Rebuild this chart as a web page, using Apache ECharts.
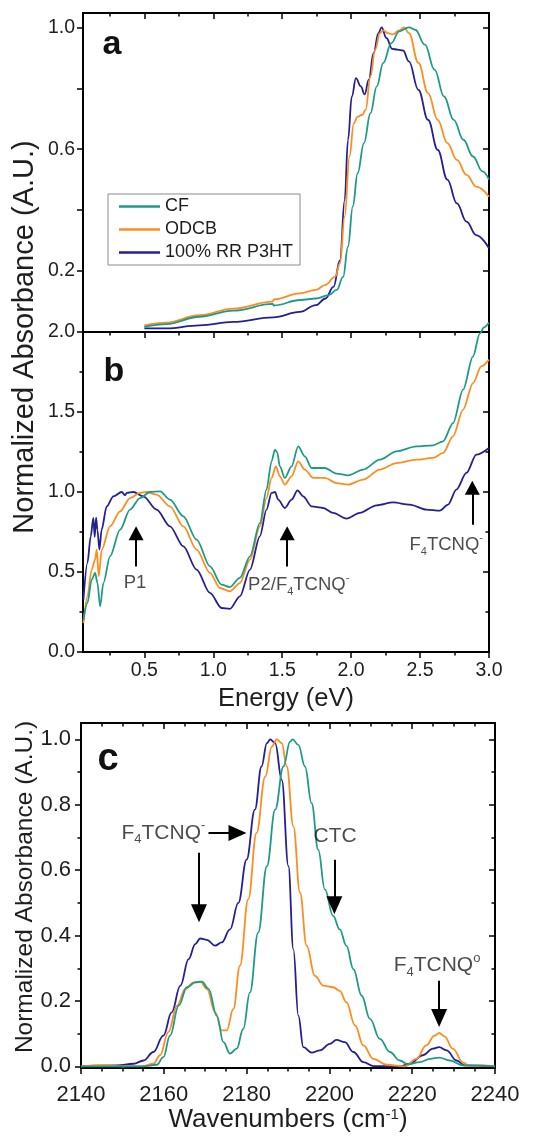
<!DOCTYPE html>
<html><head><meta charset="utf-8">
<script src="https://cdn.jsdelivr.net/npm/echarts@6/dist/echarts.min.js"></script>
<style>html,body{margin:0;padding:0;background:#fff}#c{width:545px;height:1136px}</style>
</head><body><div id="c"></div><script>
// ---------- data ----------
const seriesNames = ['CF', 'ODCB', '100% RR P3HT'];

// panel a : UV-Vis (eV, normalized absorbance)
const aCF = [[0.5,0.017],[0.66,0.026],[0.9,0.05],[1.145,0.07],[1.43,0.092],[1.44,0.087],[1.63,0.105],[1.744,0.11],[1.837,0.121],[1.895,0.138],[1.942,0.181],[1.977,0.28],[2.012,0.412],[2.047,0.521],[2.093,0.62],[2.14,0.718],[2.186,0.806],[2.233,0.883],[2.291,0.948],[2.349,0.987],[2.419,1.0],[2.465,0.992],[2.535,0.943],[2.605,0.861],[2.674,0.773],[2.744,0.696],[2.814,0.631],[2.884,0.576],[2.953,0.527],[3.0,0.5]];
const aODCB = [[0.5,0.022],[0.66,0.031],[0.9,0.055],[1.145,0.077],[1.43,0.1],[1.44,0.107],[1.628,0.127],[1.744,0.138],[1.81,0.154],[1.884,0.181],[1.919,0.225],[1.953,0.379],[1.988,0.576],[2.019,0.685],[2.047,0.707],[2.081,0.713],[2.105,0.729],[2.14,0.839],[2.174,0.927],[2.209,0.981],[2.233,0.99],[2.267,0.981],[2.302,0.977],[2.349,0.99],[2.384,1.0],[2.419,0.981],[2.488,0.883],[2.558,0.784],[2.628,0.696],[2.698,0.62],[2.767,0.565],[2.837,0.516],[2.907,0.477],[3.0,0.444]];
const aP3HT = [[0.5,0.012],[0.66,0.012],[0.9,0.022],[1.145,0.033],[1.435,0.048],[1.628,0.066],[1.744,0.088],[1.814,0.11],[1.872,0.148],[1.919,0.236],[1.953,0.433],[1.977,0.63],[2.005,0.773],[2.035,0.833],[2.07,0.806],[2.098,0.78],[2.128,0.828],[2.163,0.916],[2.198,0.981],[2.221,1.0],[2.256,0.965],[2.298,0.929],[2.337,0.927],[2.377,0.924],[2.419,0.888],[2.488,0.795],[2.558,0.696],[2.628,0.598],[2.698,0.5],[2.767,0.422],[2.837,0.362],[2.907,0.318],[3.0,0.275]];

// panel b : doped films (eV, normalized absorbance)
const bCF = [[0.058,0.2],[0.087,0.306],[0.118,0.452],[0.143,0.494],[0.16,0.431],[0.179,0.285],[0.203,0.431],[0.251,0.598],[0.324,0.765],[0.396,0.89],[0.469,0.962],[0.541,1.0],[0.614,1.004],[0.686,0.952],[0.783,0.848],[0.879,0.702],[0.976,0.535],[1.06,0.421],[1.12,0.406],[1.193,0.463],[1.266,0.598],[1.338,0.806],[1.386,1.015],[1.423,1.192],[1.447,1.265],[1.464,1.248],[1.483,1.16],[1.519,1.088],[1.568,1.16],[1.616,1.285],[1.664,1.223],[1.713,1.15],[1.809,1.15],[1.894,1.115],[1.978,1.104],[2.087,1.14],[2.208,1.202],[2.329,1.254],[2.473,1.285],[2.594,1.292],[2.667,1.317],[2.739,1.431],[2.812,1.64],[2.884,1.848],[2.933,1.99],[2.965,2.03],[3.0,2.06]];
const bODCB = [[0.058,0.18],[0.087,0.348],[0.118,0.515],[0.143,0.577],[0.155,0.64],[0.169,0.473],[0.191,0.64],[0.251,0.785],[0.324,0.879],[0.396,0.962],[0.469,0.994],[0.517,1.0],[0.589,0.983],[0.686,0.91],[0.783,0.785],[0.879,0.64],[0.976,0.494],[1.048,0.4],[1.12,0.379],[1.193,0.431],[1.266,0.577],[1.338,0.785],[1.386,0.962],[1.423,1.088],[1.454,1.16],[1.483,1.098],[1.519,1.046],[1.568,1.098],[1.616,1.192],[1.664,1.14],[1.725,1.088],[1.809,1.088],[1.894,1.056],[1.978,1.046],[2.087,1.077],[2.208,1.14],[2.329,1.181],[2.473,1.202],[2.594,1.213],[2.667,1.244],[2.739,1.348],[2.812,1.515],[2.884,1.681],[2.944,1.785],[3.0,1.827]];
const bP3HT = [[0.058,0.327],[0.087,0.556],[0.111,0.723],[0.13,0.838],[0.14,0.72],[0.15,0.84],[0.16,0.76],[0.174,0.64],[0.19,0.765],[0.227,0.91],[0.275,0.973],[0.336,1.0],[0.36,0.98],[0.372,0.994],[0.42,1.0],[0.493,0.973],[0.589,0.89],[0.686,0.785],[0.783,0.66],[0.879,0.515],[0.976,0.369],[1.06,0.275],[1.12,0.269],[1.193,0.348],[1.266,0.515],[1.338,0.723],[1.386,0.89],[1.423,0.994],[1.447,1.0],[1.471,0.952],[1.519,0.9],[1.568,0.952],[1.611,1.01],[1.652,0.973],[1.713,0.91],[1.797,0.9],[1.87,0.869],[1.966,0.833],[2.063,0.869],[2.184,0.917],[2.304,0.935],[2.425,0.921],[2.546,0.89],[2.643,0.883],[2.703,0.921],[2.763,1.015],[2.836,1.119],[2.908,1.233],[3.0,1.275]];

// panel c : IR (cm-1, normalized absorbance)
const cCF = [[2140,0],[2155,0],[2158.3,0.005],[2159.9,0.028],[2161.5,0.094],[2163.6,0.186],[2165.6,0.242],[2167.6,0.257],[2169.2,0.259],[2170.8,0.237],[2172.8,0.155],[2174.4,0.074],[2176,0.039],[2177.6,0.054],[2179.2,0.115],[2180.8,0.226],[2182.8,0.409],[2184.9,0.612],[2186.9,0.785],[2188.9,0.917],[2190.5,0.993],[2191.1,1.0],[2192.5,0.983],[2194.1,0.917],[2195.7,0.805],[2197.3,0.663],[2198.9,0.541],[2200.9,0.46],[2202.5,0.419],[2204.1,0.369],[2205.8,0.297],[2207.8,0.216],[2209.8,0.145],[2212.2,0.084],[2214.6,0.044],[2217,0.018],[2219,0.006],[2221.8,0.013],[2224.3,0.023],[2226.5,0.027],[2229.1,0.018],[2232.3,0.003],[2240,0]];
const cODCB = [[2140,0],[2145,0.004],[2150,0],[2155,0.001],[2157.5,0.008],[2159.1,0.034],[2161.1,0.105],[2163.2,0.186],[2165.2,0.237],[2167.2,0.257],[2168.8,0.259],[2170.4,0.237],[2172.4,0.165],[2174,0.11],[2175.2,0.11],[2176.8,0.176],[2178.4,0.308],[2180.4,0.511],[2182.4,0.714],[2184.5,0.886],[2186.1,0.978],[2187.3,1.0],[2188.5,0.988],[2189.7,0.917],[2191.3,0.734],[2192.9,0.531],[2194.5,0.369],[2196.5,0.277],[2198.5,0.247],[2200.9,0.242],[2202.5,0.231],[2204.1,0.196],[2206.2,0.125],[2208.2,0.064],[2210.6,0.023],[2213.8,0.005],[2218.2,0],[2221,0.023],[2223.4,0.064],[2225.4,0.094],[2226.5,0.102],[2227.8,0.092],[2229.8,0.054],[2232.3,0.011],[2233.9,0.001],[2237,0.003],[2240,0]];
const cP3HT = [[2140,0],[2148.7,0.003],[2152.7,0.008],[2155.1,0.018],[2157.5,0.044],[2159.9,0.094],[2161.9,0.165],[2164,0.247],[2166,0.328],[2167.6,0.374],[2168.8,0.391],[2170.4,0.387],[2172.4,0.369],[2174,0.379],[2176,0.419],[2178,0.5],[2180,0.632],[2182,0.785],[2183.6,0.917],[2184.9,0.988],[2185.7,1.0],[2186.9,0.988],[2188.5,0.876],[2190.1,0.612],[2191.3,0.358],[2192.5,0.155],[2193.7,0.059],[2195.7,0.042],[2197.7,0.049],[2200.1,0.069],[2201.7,0.081],[2203.7,0.074],[2205.8,0.044],[2208.2,0.013],[2210.6,0.001],[2217,0],[2219.4,0.008],[2222.6,0.034],[2225,0.054],[2226.5,0.059],[2228.3,0.049],[2230.7,0.018],[2232.7,0.003],[2240,0]];

// tick values / labels
const abMajorX = [0.5, 1.0, 1.5, 2.0, 2.5, 3.0];
const abMinorX = [0.25, 0.75, 1.25, 1.75, 2.25, 2.75];
const aTicksY = [0.2, 0.4, 0.6, 0.8, 1.0];
const aLabelsY = [0.2, 0.6, 1.0];
const bMajorY = [0.0, 0.5, 1.0, 1.5, 2.0];
const bMinorY = [0.25, 0.75, 1.25, 1.75];
const cMajorX = [2140, 2160, 2180, 2200, 2220, 2240];
const cMinorX = [2145, 2150, 2155, 2165, 2170, 2175, 2185, 2190, 2195, 2205, 2210, 2215, 2225, 2230, 2235];
const cMajorY = [0.0, 0.2, 0.4, 0.6, 0.8, 1.0];
const cMinorY = [0.1, 0.3, 0.5, 0.7, 0.9];

// annotations: [x, y, rich text]
const bNotes = [[0.432, 0.43, '{t|P1}'], [1.62, 0.42, '{t|P2/F}{sub|4}{t|TCNQ}{sup|-}'], [2.69, 0.67, '{t|F}{sub|4}{t|TCNQ}{sup|-}']];
const bArrows = [[[0.44, 0.535], [0.44, 0.742]], [[1.536, 0.535], [1.536, 0.742]], [[2.879, 0.796], [2.879, 1.027]]];
const cNotes = [[2159.9, 0.714, '{t|F}{sub|4}{t|TCNQ}{sup|-}'], [2201.4, 0.704, '{t|CTC}'], [2226, 0.308, '{t|F}{sub|4}{t|TCNQ}{sup|o}']];
const cArrows = [[[2168.5, 0.653], [2168.5, 0.468]], [[2170.8, 0.714], [2177.8, 0.714]], [[2201.2, 0.632], [2201.2, 0.493]], [[2226.5, 0.262], [2226.5, 0.148]]];

// ---------- style ----------
const FONT = '"Liberation Sans", Arial, Helvetica, sans-serif';
const COLORS = ['#1e9a88', '#ff8c1f', '#231f94'];
const TXT = '#1e1e1e';
const abRangeX = [0.055, 3.0], aRangeY = [0, 1.047], bRangeY = [0, 2.0];
const cRangeX = [2140, 2240], cRangeY = [-0.005, 1.05];

function ax(grid, position, range, ticks, len, inside, showLine, labels, fontSize, fmt, margin, extra) {
  return Object.assign({
    type: 'value', gridIndex: grid, position: position, min: range[0], max: range[1],
    axisLine: { show: showLine, onZero: false, lineStyle: { color: '#000', width: 2 } },
    axisTick: ticks ? { show: true, inside: inside, length: len, customValues: ticks, lineStyle: { color: '#000', width: 1.5 } } : { show: false },
    axisLabel: labels ? { show: true, customValues: labels, formatter: fmt, fontSize: fontSize, fontFamily: FONT, color: TXT, margin: margin, showMinLabel: true, showMaxLabel: true, hideOverlap: false } : { show: false },
    splitLine: { show: false }, minorTick: { show: false }
  }, extra || {});
}
const f1 = v => Number(v).toFixed(1);
const f0 = v => String(Math.round(v));

const xAxes = [
  ax(0, 'bottom', abRangeX, abMajorX, 6, false, true),
  ax(0, 'bottom', abRangeX, abMinorX, 3.5, false, false),
  ax(0, 'top', abRangeX, abMajorX, 6, true, true),
  ax(0, 'top', abRangeX, abMinorX, 3.5, true, false),
  ax(1, 'bottom', abRangeX, abMajorX, 6, false, true, abMajorX, 19.5, f1, 9, {
    name: 'Energy (eV)', nameLocation: 'middle', nameGap: 34,
    nameTextStyle: { fontSize: 25.5, fontFamily: FONT, color: TXT } }),
  ax(1, 'bottom', abRangeX, abMinorX, 3.5, false, false),
  ax(1, 'top', abRangeX, null, 0, true, true),
  ax(2, 'bottom', cRangeX, cMajorX, 6, false, true, cMajorX, 22, f0, 16, {
    name: 'Wavenumbers (cm{sup|-1})', nameLocation: 'middle', nameGap: 33,
    nameTextStyle: { fontSize: 26, fontFamily: FONT, color: TXT,
      rich: { sup: { fontSize: 15, fontFamily: FONT, color: TXT, verticalAlign: 'top', lineHeight: 14 } } } }),
  ax(2, 'bottom', cRangeX, cMinorX, 3.5, false, false),
  ax(2, 'top', cRangeX, cMajorX, 6, true, true),
  ax(2, 'top', cRangeX, cMinorX, 3.5, true, false)
];
const yAxes = [
  ax(0, 'left', aRangeY, aTicksY, 6, false, true, aLabelsY, 19.5, f1, 8),
  ax(0, 'right', aRangeY, aTicksY, 6, true, true),
  ax(1, 'left', bRangeY, bMajorY, 6, false, true, bMajorY, 19.5, f1, 8),
  ax(1, 'left', bRangeY, bMinorY, 3.5, false, false),
  ax(1, 'right', bRangeY, bMajorY, 6, true, true),
  ax(1, 'right', bRangeY, bMinorY, 3.5, true, false),
  ax(2, 'left', cRangeY, cMajorY, 6, false, true, cMajorY, 22, f1, 10),
  ax(2, 'left', cRangeY, cMinorY, 3.5, false, false),
  ax(2, 'right', cRangeY, cMajorY, 6, true, true),
  ax(2, 'right', cRangeY, cMinorY, 3.5, true, false)
];

function line(name, i, data, xi, yi, sm, clip) {
  return { type: 'line', name: name, data: data, xAxisIndex: xi, yAxisIndex: yi,
    color: COLORS[i], symbol: 'none', showSymbol: false, smooth: sm, smoothMonotone: 'x',
    lineStyle: { width: 1.8, color: COLORS[i] }, z: 3 + (2 - i) * 0.1, clip: clip };
}
function rich(fs) {
  return {
    t: { fontSize: fs, fontFamily: FONT, color: TXT, lineHeight: fs + 6 },
    sub: { fontSize: Math.round(fs * 0.62), fontFamily: FONT, color: TXT, lineHeight: Math.round(fs * 0.62), verticalAlign: 'bottom' },
    sup: { fontSize: Math.round(fs * 0.62), fontFamily: FONT, color: TXT, lineHeight: Math.round(fs * 0.62), verticalAlign: 'top' }
  };
}
function notes(xi, yi, list, arrows, fs, head) {
  return {
    type: 'scatter', name: 'notes', xAxisIndex: xi, yAxisIndex: yi, symbolSize: 1, silent: true,
    itemStyle: { color: 'rgba(0,0,0,0)' },
    label: { show: true, position: 'inside', fontSize: fs, fontFamily: FONT, color: TXT, rich: rich(fs) },
    data: list.map(n => ({ value: [n[0], n[1]], label: { formatter: n[2] } })),
    markLine: {
      silent: true, symbol: ['none', 'triangle'], symbolSize: 10, animation: false,
      lineStyle: { color: '#000', width: 2, type: 'solid' }, label: { show: false },
      data: arrows.map(a => [{ coord: a[0] }, { coord: a[1], symbolSize: head }])
    },
    z: 6
  };
}

const series = [
  line('CF', 0, aCF, 0, 0, 0.4, true), line('ODCB', 1, aODCB, 0, 0, 0.4, true), line('100% RR P3HT', 2, aP3HT, 0, 0, 0.4, true),
  line('CF', 0, bCF, 4, 2, 0.3, false), line('ODCB', 1, bODCB, 4, 2, 0.3, true), line('100% RR P3HT', 2, bP3HT, 4, 2, 0.3, true),
  line('CF', 0, cCF, 7, 6, 0.4, true), line('ODCB', 1, cODCB, 7, 6, 0.4, true), line('100% RR P3HT', 2, cP3HT, 7, 6, 0.4, true),
  notes(4, 2, bNotes, bArrows, 18.5, [15, 14]),
  notes(7, 6, cNotes, cArrows, 21, [16, 18])
];

const chart = echarts.init(document.getElementById('c'), null, { renderer: 'canvas' });
chart.setOption({
  animation: false,
  backgroundColor: '#fff',
  grid: [
    { left: 83, right: 56, top: 13, height: 319 },
    { left: 83, right: 56, top: 332, height: 320 },
    { left: 81, right: 50, top: 723, height: 345 }
  ],
  xAxis: xAxes,
  yAxis: yAxes,
  legend: {
    data: seriesNames, orient: 'vertical', left: 108, top: 194,
    itemWidth: 41, itemHeight: 2.5, itemGap: 4, icon: 'rect',
    padding: [3, 7, 3, 11], borderColor: '#8c8c8c', borderWidth: 1, backgroundColor: '#fff',
    textStyle: { fontSize: 18, fontFamily: FONT, color: TXT, lineHeight: 19 }
  },
  graphic: [
    { type: 'text', x: 25, y: 337, rotation: Math.PI / 2, style: { text: 'Normalized Absorbance (A.U.)', fontSize: 29, fontFamily: FONT, fill: TXT, align: 'center', verticalAlign: 'middle' } },
    { type: 'text', x: 25, y: 887, rotation: Math.PI / 2, style: { text: 'Normalized Absorbance (A.U.)', fontSize: 24.5, fontFamily: FONT, fill: TXT, align: 'center', verticalAlign: 'middle' } },
    { type: 'text', x: 112, y: 45, style: { text: 'a', fontSize: 34, fontWeight: 'bold', fontFamily: FONT, fill: '#111', align: 'center', verticalAlign: 'middle' } },
    { type: 'text', x: 114, y: 372, style: { text: 'b', fontSize: 34, fontWeight: 'bold', fontFamily: FONT, fill: '#111', align: 'center', verticalAlign: 'middle' } },
    { type: 'text', x: 108, y: 760, style: { text: 'c', fontSize: 38, fontWeight: 'bold', fontFamily: FONT, fill: '#111', align: 'center', verticalAlign: 'middle' } }
  ],
  series: series
});
</script></body></html>
